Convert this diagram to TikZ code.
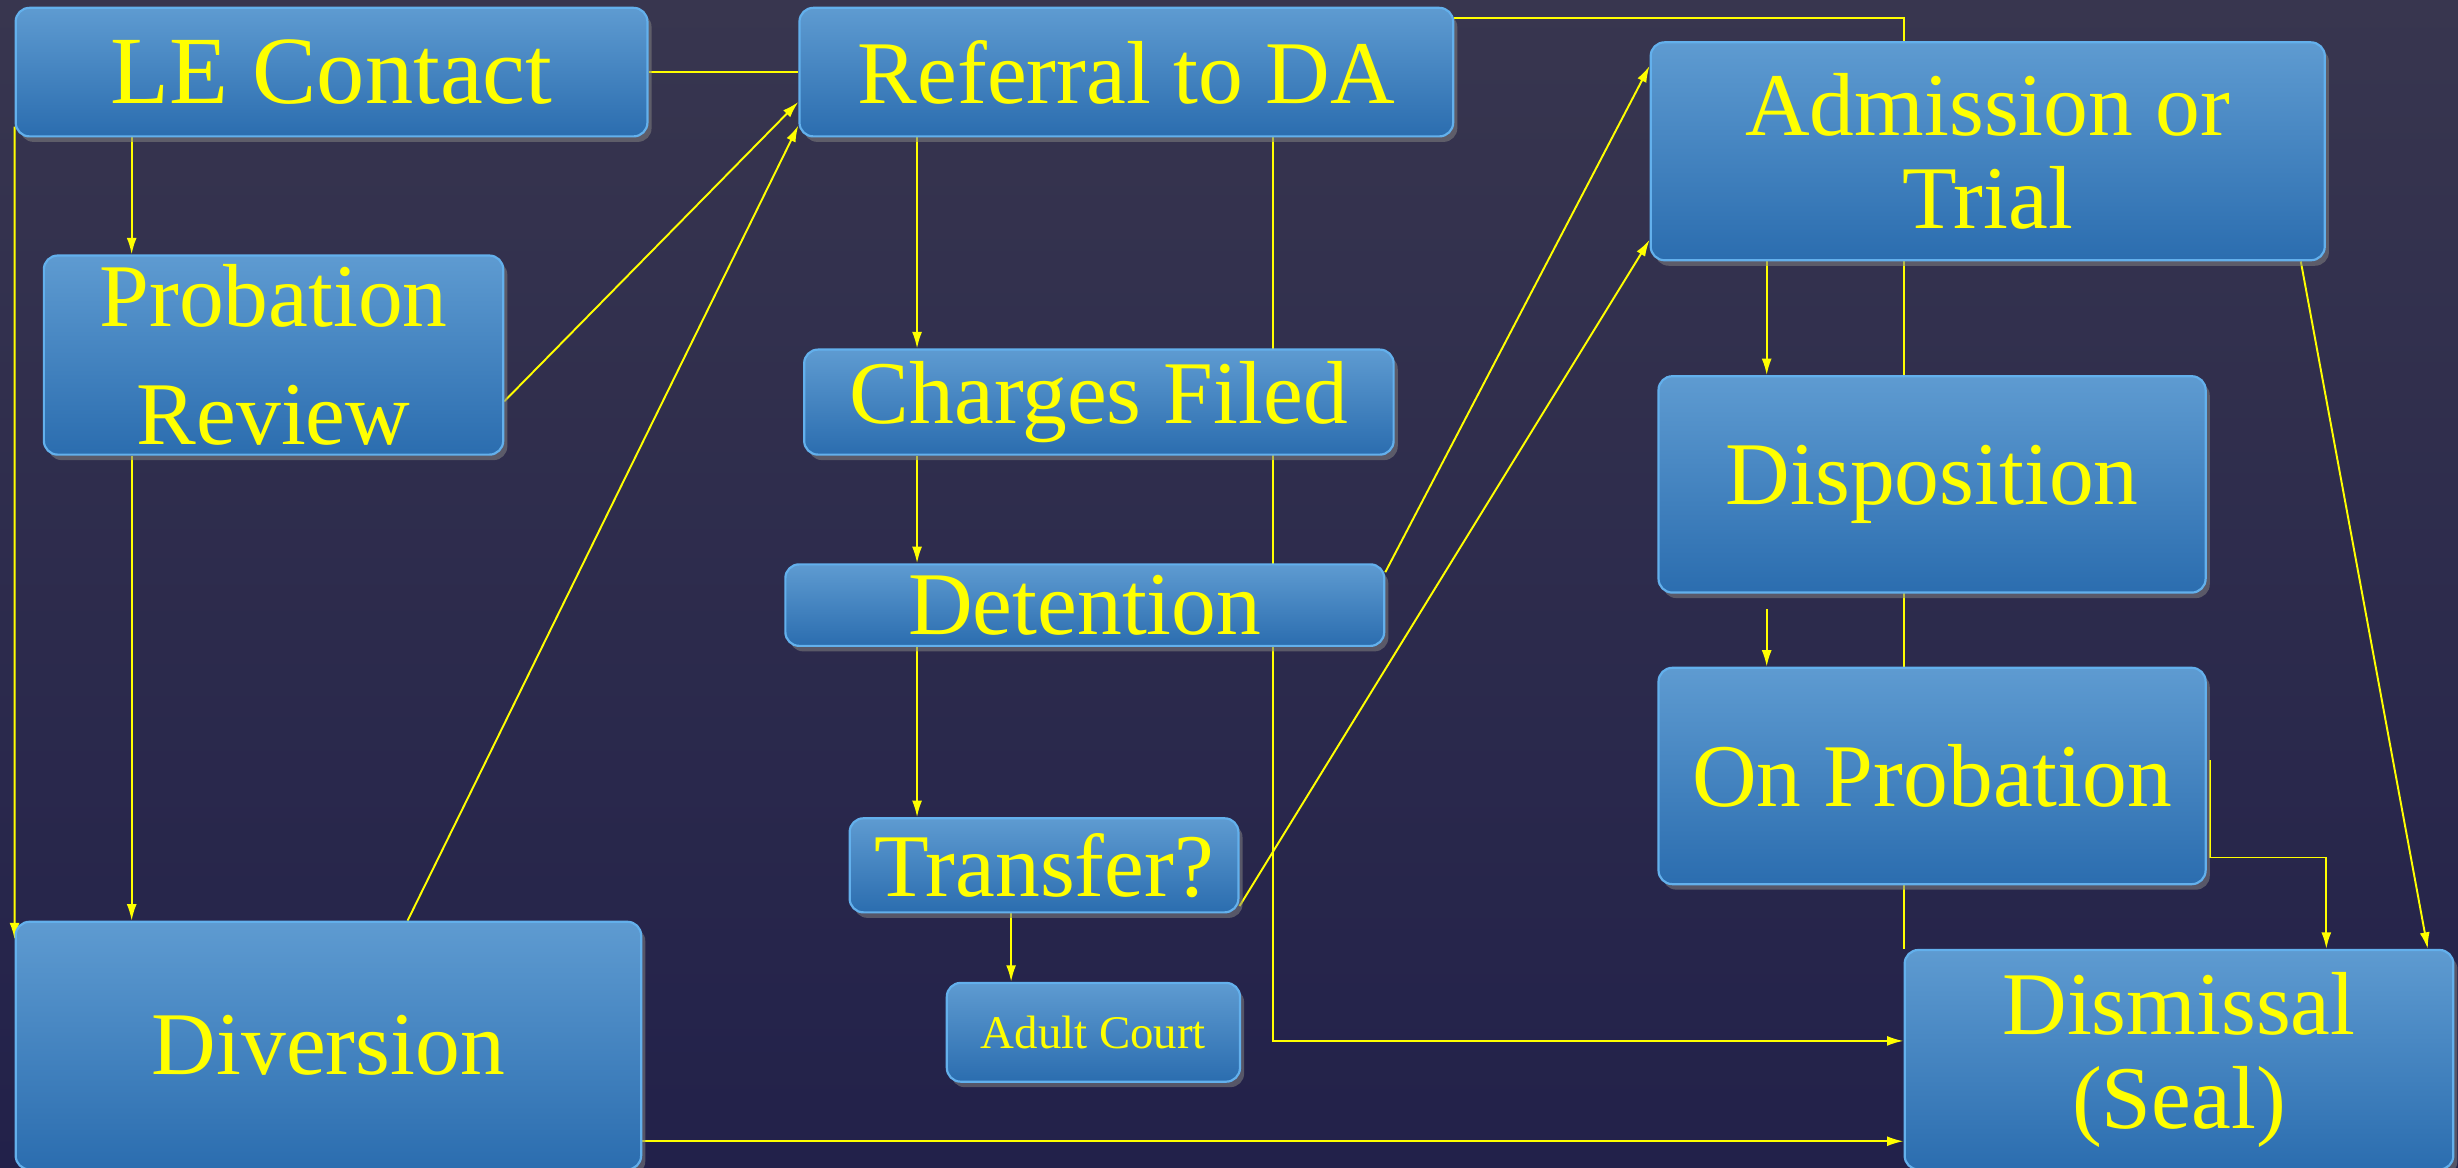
\documentclass[tikz,border=0pt]{standalone}
\usepackage{fontspec}
\setmainfont{Liberation Serif}
\usepackage{xcolor}
\usepackage{tikz}
\usetikzlibrary{arrows.meta,shadows,backgrounds}

\definecolor{bgtop}{HTML}{38364F}
\definecolor{bgbot}{HTML}{22214A}
\definecolor{boxtop}{HTML}{5E9BD1}
\definecolor{boxbot}{HTML}{2B6DAF}
\definecolor{boxline}{HTML}{63B0EC}
\definecolor{flow}{HTML}{FFFF00}

\tikzset{
  stage/.style={rectangle, rounded corners=5pt, draw=boxline, line width=0.8pt,
    top color=boxtop, bottom color=boxbot, text=flow, align=center, inner sep=0pt,
    font=\fontsize{32.5}{43}\selectfont,
    drop shadow={opacity=0.55, shadow xshift=1.5pt, shadow yshift=-2pt}},
  tight/.style={font=\fontsize{32.5}{34}\selectfont},
  flowline/.style={flow, line width=0.7pt},
  flowarrow/.style={flowline, -{Latex[length=6pt,width=3.6pt]}}
}

\begin{document}
\begin{tikzpicture}[x=0.2mm, y=-0.2mm]
    \useasboundingbox (0,0) rectangle (1568,745);
    \begin{scope}[on background layer]
        \fill[top color=bgtop, bottom color=bgbot] (0,0) rectangle (1568,745);
    \end{scope}

    \node[stage, minimum width=80.6mm, minimum height=16.4mm, font=\fontsize{35}{43}\selectfont] (le) at (211.5,46) {LE Contact};
    \node[stage, minimum width=83.4mm, minimum height=16.4mm] (ref) at (718.5,46) {Referral to DA};
    \node[stage, minimum width=58.6mm, minimum height=25.4mm] (prob) at (174.5,226.5) {Probation\\Review};
    \node[stage, minimum width=75.2mm, minimum height=13.4mm] (chg) at (701,256.5) {Charges Filed};
    \node[stage, minimum width=76.4mm, minimum height=10.4mm] (det) at (692,386) {Detention};
    \node[stage, minimum width=49.6mm, minimum height=12mm] (trans) at (666,552) {Transfer?};
    \node[stage, minimum width=37.4mm, minimum height=12.6mm, font=\fontsize{17}{20}\selectfont] (adult) at (697.5,658.5) {Adult Court};
    \node[stage, minimum width=79.8mm, minimum height=31.6mm] (div) at (209.5,667) {Diversion};
    \node[stage, tight, minimum width=86mm, minimum height=27.8mm] (adm) at (1268,96.5) {Admission or\\Trial};
    \node[stage, minimum width=69.8mm, minimum height=27.6mm] (disp) at (1232.5,309) {Disposition};
    \node[stage, minimum width=69.8mm, minimum height=27.6mm] (onprob) at (1232.5,495) {On Probation};
    \node[stage, tight, minimum width=70mm, minimum height=28mm] (dism) at (1390,676) {Dismissal\\(Seal)};

    \coordinate (px) at (84,0);
    \coordinate (cx) at (585,0);
    \coordinate (ax) at (645,0);
    \coordinate (qx) at (812,0);
    \coordinate (dx) at (1127,0);
    \coordinate (rx) at (1484,0);
    \coordinate (dv) at ([yshift=-12.2mm]div.east);

    \begin{scope}[on background layer]
        \draw [flowline] (le) -- (ref);
        \draw [flowarrow] (le.south -| px) -- (prob.north -| px);
        \draw [flowarrow] ([yshift=1.4mm]le.south west) -- ([yshift=-2.4mm]div.north west);
        \draw [flowarrow] (prob.south -| px) -- (div.north -| px);
        \draw [flowarrow] ([yshift=-5.9mm]prob.east) -- ([yshift=-3.8mm]ref.west);
        \draw [flowarrow] ([xshift=10.1mm]div.north) -- ([yshift=-6.8mm]ref.west);
        \draw [flowarrow] (ref.south -| cx) -- (chg.north -| cx);
        \draw [flowarrow] (chg.south -| cx) -- (det.north -| cx);
        \draw [flowarrow] (det.south -| cx) -- (trans.north -| cx);
        \draw [flowarrow] (trans.south -| ax) -- (adult.north -| ax);
        \draw [flowline] ([yshift=-1.4mm]ref.north east) -| (dism.north west);
        \draw [flowarrow] (ref.south -| qx) |- ([yshift=2.4mm]dism.west);
        \draw [flowarrow] ([yshift=4.2mm]det.east) -- ([yshift=10.9mm]adm.west);
        \draw [flowarrow] ([yshift=-5.2mm]trans.east) -- ([yshift=-11.3mm]adm.west);
        \draw [flowarrow] (adm.south -| dx) -- (disp.north -| dx);
        \draw [flowarrow, shorten <=2mm] (disp.south -| dx) -- (onprob.north -| dx);
        \draw [flowarrow] ([xshift=0.4mm,yshift=2mm]onprob.east) -- ([xshift=0.4mm,yshift=-10.4mm]onprob.east) -| (dism.north -| rx);
        \draw [flowarrow] ([xshift=-3.2mm]adm.south east) -- ([xshift=-3.4mm]dism.north east);
        \draw [flowarrow] (dv) -- (dv -| dism.west);
    \end{scope}
\end{tikzpicture}
\end{document}
